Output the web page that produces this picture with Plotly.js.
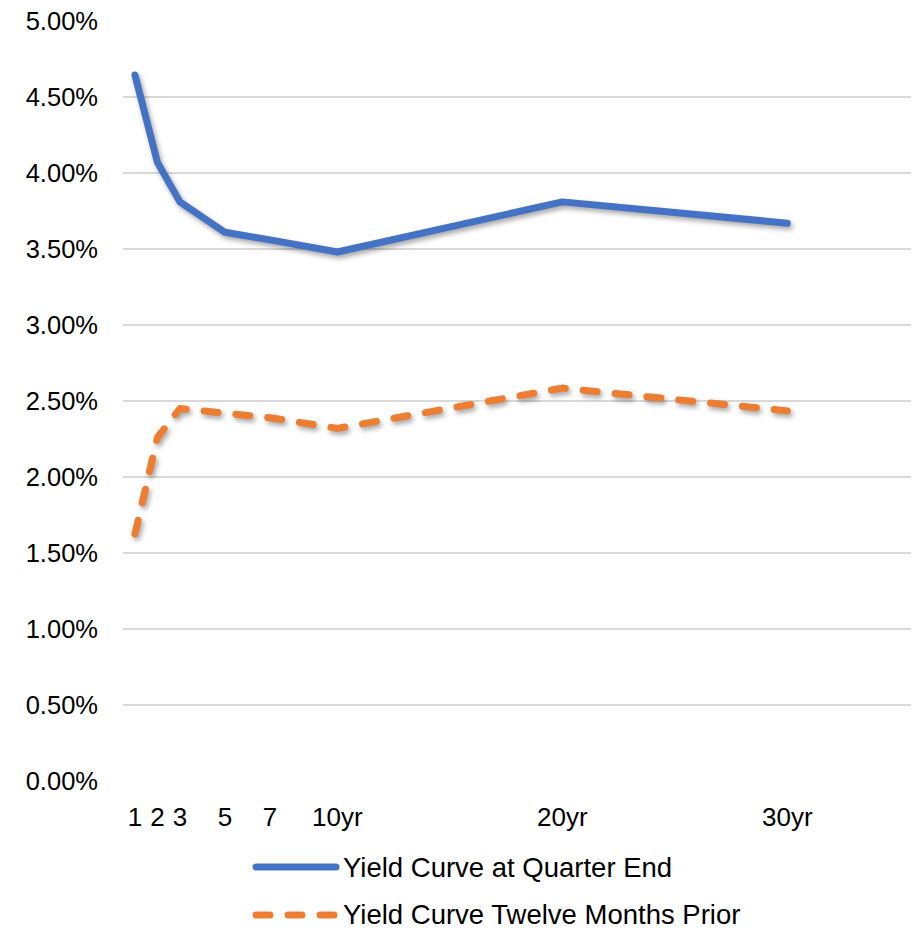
<!DOCTYPE html>
<html>
<head>
<meta charset="utf-8">
<script src="https://cdn.plot.ly/plotly-3.0.1.min.js"></script>
<style>
  html, body { margin: 0; padding: 0; background: #fff; }
  #chart { width: 918px; height: 931px; }
  .scatterlayer .js-line, .shapelayer path { stroke-linecap: round !important; stroke-linejoin: round !important; }
  .scatterlayer .trace { filter: drop-shadow(2px 3px 2.5px rgba(0,0,0,0.35)); }
</style>
</head>
<body>
<div id="chart"></div>
<script>
// Maturities (years) and labels
const maturities = [1, 2, 3, 5, 7, 10, 20, 30];
const tickLabels = ['1', '2', '3', '5', '7', '10yr', '20yr', '30yr'];
// Yields in percent
const quarterEnd = [4.645, 4.07, 3.81, 3.61, 3.56, 3.48, 3.81, 3.67];
const twelveMonthsPrior = [1.625, 2.26, 2.45, 2.42, 2.39, 2.32, 2.585, 2.435];
const seriesNames = ['Yield Curve at Quarter End', 'Yield Curve Twelve Months Prior'];
const yTicks = [0, 0.5, 1, 1.5, 2, 2.5, 3, 3.5, 4, 4.5, 5];

const blue = '#4472C4';
const orange = '#ED7D31';
const dashPattern = '14px,18px';
const font = '"Liberation Sans", Arial, sans-serif';

const traces = [
  {
    x: maturities, y: quarterEnd, name: seriesNames[0], type: 'scatter', mode: 'lines',
    line: { color: blue, width: 7 }, hoverinfo: 'skip'
  },
  {
    x: maturities, y: twelveMonthsPrior, name: seriesNames[1], type: 'scatter', mode: 'lines',
    line: { color: orange, width: 7, dash: dashPattern }, hoverinfo: 'skip'
  }
];

const legendY = [-0.1132, -0.1763];
const legendColors = [blue, orange];
const legendDash = ['solid', dashPattern];

const shapes = seriesNames.map((n, i) => ({
  type: 'line', xref: 'paper', yref: 'paper',
  x0: 0.1688, x1: 0.2703, y0: legendY[i], y1: legendY[i],
  line: { color: legendColors[i], width: 7, dash: legendDash[i] }
}));

const annotations = seriesNames.map((n, i) => ({
  text: n, xref: 'paper', yref: 'paper', x: 0.2779, y: legendY[i],
  xanchor: 'left', yanchor: 'middle', showarrow: false, borderpad: 0,
  font: { family: font, size: 27.5, color: '#000' }
}));

const layout = {
  width: 918, height: 931,
  margin: { l: 123, r: 7, t: 21, b: 150, pad: 0 },
  paper_bgcolor: '#fff', plot_bgcolor: '#fff',
  showlegend: false,
  font: { family: font, color: '#000' },
  xaxis: {
    range: [0.47, 35.5],
    tickmode: 'array', tickvals: maturities, ticktext: tickLabels,
    showgrid: false, zeroline: false, showline: false, ticks: '',
    ticklabelstandoff: 18,
    tickfont: { family: font, size: 26, color: '#000' }
  },
  yaxis: {
    range: [0, 5.0],
    tickmode: 'array', tickvals: yTicks,
    ticktext: yTicks.map(v => v.toFixed(2) + '%'),
    showgrid: true, gridcolor: '#D9D9D9', gridwidth: 1.5,
    zeroline: false, showline: false, ticks: '',
    ticklabelstandoff: 24,
    tickfont: { family: font, size: 25.5, color: '#000' }
  },
  shapes: shapes,
  annotations: annotations
};

Plotly.newPlot('chart', traces, layout, { staticPlot: true, displayModeBar: false });
</script>
</body>
</html>
